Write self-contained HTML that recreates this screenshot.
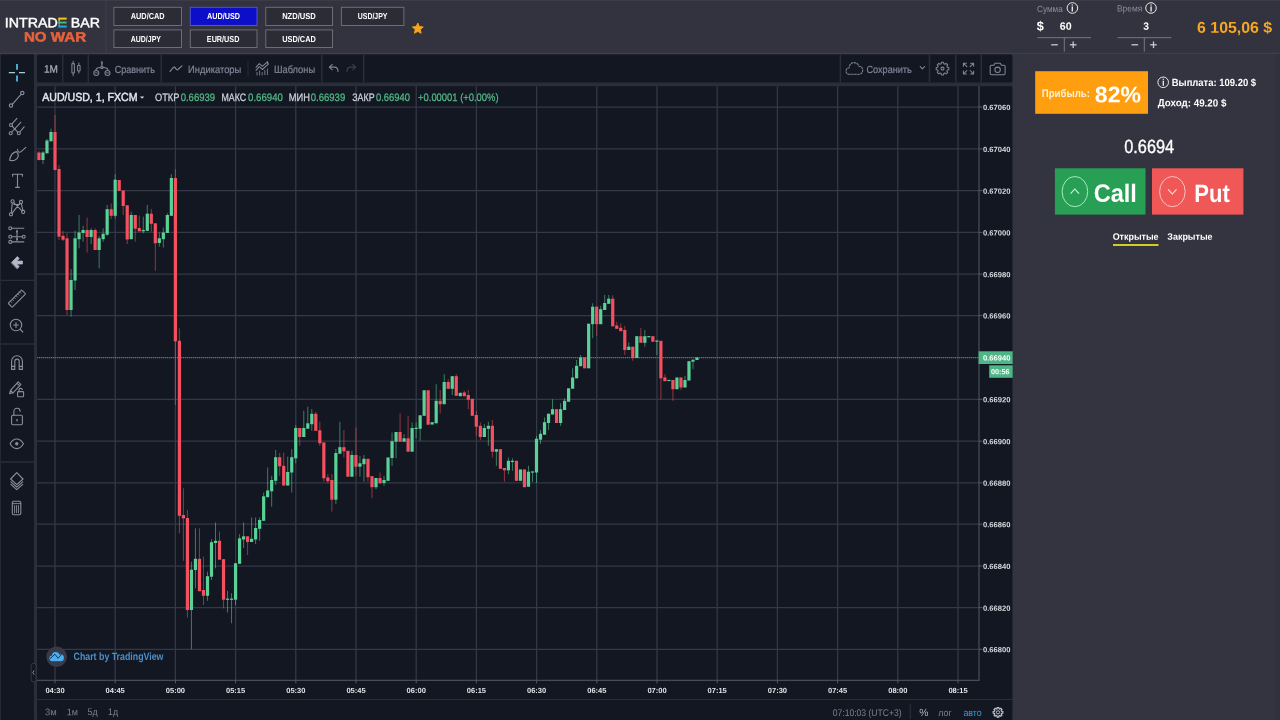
<!DOCTYPE html>
<html lang="ru"><head><meta charset="utf-8"><title>Intrade Bar</title>
<style>
html,body{margin:0;padding:0}
body{width:1280px;height:720px;overflow:hidden;position:relative;background:#2a2e39;font-family:"Liberation Sans",sans-serif}
svg.bg{position:absolute;left:0;top:0}
.t{position:absolute;white-space:nowrap;transform-origin:0 0;display:block}
.lgE{background:linear-gradient(to bottom,#f3c81a 0,#f3c81a 40%,#3fbf7a 40%,#3fbf7a 60%,#2aa4cc 60%,#2aa4cc 100%);-webkit-background-clip:text;background-clip:text;color:transparent}
</style></head><body>
<svg class="bg" width="1280" height="720" viewBox="0 0 1280 720">
<rect x="0.00" y="0.00" width="1280.00" height="720.00" fill="#2a2e39"/>
<rect x="0.00" y="0.00" width="1280.00" height="54.20" fill="#32333e"/>
<rect x="1012.40" y="54.20" width="267.60" height="665.80" fill="#33343f"/>
<line x1="0.00" y1="0.50" x2="1280.00" y2="0.50" stroke="#3b3c48" stroke-width="1"/>
<line x1="0.00" y1="53.50" x2="1280.00" y2="53.50" stroke="#3d3f4c" stroke-width="1.3"/>
<line x1="106.00" y1="0.00" x2="106.00" y2="53.00" stroke="#40414d" stroke-width="1"/>
<rect x="1275.50" y="54.00" width="4.50" height="666.00" fill="#30313b"/>
<rect x="0.80" y="54.40" width="33.20" height="665.60" fill="#131722"/>
<rect x="37.00" y="54.40" width="975.40" height="28.00" fill="#131722" rx="1.5"/>
<rect x="37.00" y="86.20" width="975.40" height="633.80" fill="#131722" rx="1.5"/>
<line x1="62.70" y1="54.40" x2="62.70" y2="82.40" stroke="#2a2e39" stroke-width="1.5"/>
<line x1="88.30" y1="54.40" x2="88.30" y2="82.40" stroke="#2a2e39" stroke-width="1.5"/>
<line x1="161.30" y1="54.40" x2="161.30" y2="82.40" stroke="#2a2e39" stroke-width="1.5"/>
<line x1="321.80" y1="54.40" x2="321.80" y2="82.40" stroke="#2a2e39" stroke-width="1.5"/>
<line x1="363.60" y1="54.40" x2="363.60" y2="82.40" stroke="#2a2e39" stroke-width="1.5"/>
<line x1="840.40" y1="54.40" x2="840.40" y2="82.40" stroke="#2a2e39" stroke-width="1.5"/>
<line x1="929.50" y1="54.40" x2="929.50" y2="82.40" stroke="#2a2e39" stroke-width="1.5"/>
<line x1="955.80" y1="54.40" x2="955.80" y2="82.40" stroke="#2a2e39" stroke-width="1.5"/>
<line x1="981.30" y1="54.40" x2="981.30" y2="82.40" stroke="#2a2e39" stroke-width="1.5"/>
<line x1="248.00" y1="61.00" x2="248.00" y2="77.00" stroke="#232733" stroke-width="1.2"/>
<line x1="0.80" y1="280.30" x2="34.00" y2="280.30" stroke="#2a2e39" stroke-width="1.3"/>
<line x1="0.80" y1="344.00" x2="34.00" y2="344.00" stroke="#2a2e39" stroke-width="1.3"/>
<line x1="0.80" y1="462.00" x2="34.00" y2="462.00" stroke="#2a2e39" stroke-width="1.3"/>
<line x1="37.00" y1="107.00" x2="979.00" y2="107.00" stroke="#353947" stroke-width="1.25"/>
<line x1="37.00" y1="148.90" x2="979.00" y2="148.90" stroke="#353947" stroke-width="1.25"/>
<line x1="37.00" y1="190.60" x2="979.00" y2="190.60" stroke="#353947" stroke-width="1.25"/>
<line x1="37.00" y1="232.40" x2="979.00" y2="232.40" stroke="#353947" stroke-width="1.25"/>
<line x1="37.00" y1="274.10" x2="979.00" y2="274.10" stroke="#353947" stroke-width="1.25"/>
<line x1="37.00" y1="315.50" x2="979.00" y2="315.50" stroke="#353947" stroke-width="1.25"/>
<line x1="37.00" y1="357.60" x2="979.00" y2="357.60" stroke="#353947" stroke-width="1.25"/>
<line x1="37.00" y1="399.30" x2="979.00" y2="399.30" stroke="#353947" stroke-width="1.25"/>
<line x1="37.00" y1="441.20" x2="979.00" y2="441.20" stroke="#353947" stroke-width="1.25"/>
<line x1="37.00" y1="482.80" x2="979.00" y2="482.80" stroke="#353947" stroke-width="1.25"/>
<line x1="37.00" y1="524.20" x2="979.00" y2="524.20" stroke="#353947" stroke-width="1.25"/>
<line x1="37.00" y1="566.00" x2="979.00" y2="566.00" stroke="#353947" stroke-width="1.25"/>
<line x1="37.00" y1="607.60" x2="979.00" y2="607.60" stroke="#353947" stroke-width="1.25"/>
<line x1="37.00" y1="649.30" x2="979.00" y2="649.30" stroke="#353947" stroke-width="1.25"/>
<line x1="55.00" y1="86.20" x2="55.00" y2="680.30" stroke="#353947" stroke-width="1.25"/>
<line x1="115.20" y1="86.20" x2="115.20" y2="680.30" stroke="#353947" stroke-width="1.25"/>
<line x1="175.40" y1="86.20" x2="175.40" y2="680.30" stroke="#353947" stroke-width="1.25"/>
<line x1="235.60" y1="86.20" x2="235.60" y2="680.30" stroke="#353947" stroke-width="1.25"/>
<line x1="295.80" y1="86.20" x2="295.80" y2="680.30" stroke="#353947" stroke-width="1.25"/>
<line x1="356.00" y1="86.20" x2="356.00" y2="680.30" stroke="#353947" stroke-width="1.25"/>
<line x1="416.20" y1="86.20" x2="416.20" y2="680.30" stroke="#353947" stroke-width="1.25"/>
<line x1="476.40" y1="86.20" x2="476.40" y2="680.30" stroke="#353947" stroke-width="1.25"/>
<line x1="536.60" y1="86.20" x2="536.60" y2="680.30" stroke="#353947" stroke-width="1.25"/>
<line x1="596.80" y1="86.20" x2="596.80" y2="680.30" stroke="#353947" stroke-width="1.25"/>
<line x1="657.00" y1="86.20" x2="657.00" y2="680.30" stroke="#353947" stroke-width="1.25"/>
<line x1="717.20" y1="86.20" x2="717.20" y2="680.30" stroke="#353947" stroke-width="1.25"/>
<line x1="777.40" y1="86.20" x2="777.40" y2="680.30" stroke="#353947" stroke-width="1.25"/>
<line x1="837.60" y1="86.20" x2="837.60" y2="680.30" stroke="#353947" stroke-width="1.25"/>
<line x1="897.80" y1="86.20" x2="897.80" y2="680.30" stroke="#353947" stroke-width="1.25"/>
<line x1="958.00" y1="86.20" x2="958.00" y2="680.30" stroke="#353947" stroke-width="1.25"/>
<line x1="979.00" y1="86.20" x2="979.00" y2="680.30" stroke="#555a68" stroke-width="1"/>
<line x1="37.00" y1="680.30" x2="979.50" y2="680.30" stroke="#555a68" stroke-width="1"/>
<line x1="37.00" y1="699.50" x2="1012.40" y2="699.50" stroke="#2a2e39" stroke-width="1.2"/>
<line x1="979.00" y1="107.00" x2="982.30" y2="107.00" stroke="#555a68" stroke-width="1"/>
<line x1="979.00" y1="148.90" x2="982.30" y2="148.90" stroke="#555a68" stroke-width="1"/>
<line x1="979.00" y1="190.60" x2="982.30" y2="190.60" stroke="#555a68" stroke-width="1"/>
<line x1="979.00" y1="232.40" x2="982.30" y2="232.40" stroke="#555a68" stroke-width="1"/>
<line x1="979.00" y1="274.10" x2="982.30" y2="274.10" stroke="#555a68" stroke-width="1"/>
<line x1="979.00" y1="315.50" x2="982.30" y2="315.50" stroke="#555a68" stroke-width="1"/>
<line x1="979.00" y1="357.60" x2="982.30" y2="357.60" stroke="#555a68" stroke-width="1"/>
<line x1="979.00" y1="399.30" x2="982.30" y2="399.30" stroke="#555a68" stroke-width="1"/>
<line x1="979.00" y1="441.20" x2="982.30" y2="441.20" stroke="#555a68" stroke-width="1"/>
<line x1="979.00" y1="482.80" x2="982.30" y2="482.80" stroke="#555a68" stroke-width="1"/>
<line x1="979.00" y1="524.20" x2="982.30" y2="524.20" stroke="#555a68" stroke-width="1"/>
<line x1="979.00" y1="566.00" x2="982.30" y2="566.00" stroke="#555a68" stroke-width="1"/>
<line x1="979.00" y1="607.60" x2="982.30" y2="607.60" stroke="#555a68" stroke-width="1"/>
<line x1="979.00" y1="649.30" x2="982.30" y2="649.30" stroke="#555a68" stroke-width="1"/>
<line x1="55.00" y1="680.30" x2="55.00" y2="683.30" stroke="#555a68" stroke-width="1"/>
<line x1="115.20" y1="680.30" x2="115.20" y2="683.30" stroke="#555a68" stroke-width="1"/>
<line x1="175.40" y1="680.30" x2="175.40" y2="683.30" stroke="#555a68" stroke-width="1"/>
<line x1="235.60" y1="680.30" x2="235.60" y2="683.30" stroke="#555a68" stroke-width="1"/>
<line x1="295.80" y1="680.30" x2="295.80" y2="683.30" stroke="#555a68" stroke-width="1"/>
<line x1="356.00" y1="680.30" x2="356.00" y2="683.30" stroke="#555a68" stroke-width="1"/>
<line x1="416.20" y1="680.30" x2="416.20" y2="683.30" stroke="#555a68" stroke-width="1"/>
<line x1="476.40" y1="680.30" x2="476.40" y2="683.30" stroke="#555a68" stroke-width="1"/>
<line x1="536.60" y1="680.30" x2="536.60" y2="683.30" stroke="#555a68" stroke-width="1"/>
<line x1="596.80" y1="680.30" x2="596.80" y2="683.30" stroke="#555a68" stroke-width="1"/>
<line x1="657.00" y1="680.30" x2="657.00" y2="683.30" stroke="#555a68" stroke-width="1"/>
<line x1="717.20" y1="680.30" x2="717.20" y2="683.30" stroke="#555a68" stroke-width="1"/>
<line x1="777.40" y1="680.30" x2="777.40" y2="683.30" stroke="#555a68" stroke-width="1"/>
<line x1="837.60" y1="680.30" x2="837.60" y2="683.30" stroke="#555a68" stroke-width="1"/>
<line x1="897.80" y1="680.30" x2="897.80" y2="683.30" stroke="#555a68" stroke-width="1"/>
<line x1="958.00" y1="680.30" x2="958.00" y2="683.30" stroke="#555a68" stroke-width="1"/>
<line x1="37.00" y1="357.70" x2="979.00" y2="357.70" stroke="#86aca6" stroke-width="1" stroke-dasharray="1 1" opacity="0.62"/>
<line x1="38.95" y1="151.00" x2="38.95" y2="160.50" stroke="#f5505f" stroke-width="1" opacity="0.55"/>
<rect x="37.35" y="152.50" width="3.20" height="7.50" fill="#f5505f"/>
<line x1="42.96" y1="151.00" x2="42.96" y2="164.00" stroke="#5ad197" stroke-width="1" opacity="0.55"/>
<rect x="41.36" y="152.50" width="3.20" height="7.50" fill="#5ad197"/>
<line x1="46.98" y1="139.00" x2="46.98" y2="153.30" stroke="#5ad197" stroke-width="1" opacity="0.55"/>
<rect x="45.38" y="140.50" width="3.20" height="12.80" fill="#5ad197"/>
<line x1="50.99" y1="128.70" x2="50.99" y2="141.30" stroke="#5ad197" stroke-width="1" opacity="0.55"/>
<rect x="49.39" y="132.00" width="3.20" height="9.30" fill="#5ad197"/>
<line x1="55.00" y1="115.00" x2="55.00" y2="170.00" stroke="#f5505f" stroke-width="1" opacity="0.55"/>
<rect x="53.40" y="132.00" width="3.20" height="38.00" fill="#f5505f"/>
<line x1="59.01" y1="165.00" x2="59.01" y2="240.00" stroke="#f5505f" stroke-width="1" opacity="0.55"/>
<rect x="57.41" y="169.00" width="3.20" height="67.70" fill="#f5505f"/>
<line x1="63.02" y1="230.80" x2="63.02" y2="241.00" stroke="#f5505f" stroke-width="1" opacity="0.55"/>
<rect x="61.42" y="235.80" width="3.20" height="3.90" fill="#f5505f"/>
<line x1="67.04" y1="233.30" x2="67.04" y2="315.00" stroke="#f5505f" stroke-width="1" opacity="0.55"/>
<rect x="65.44" y="238.30" width="3.20" height="71.70" fill="#f5505f"/>
<line x1="71.05" y1="269.00" x2="71.05" y2="316.70" stroke="#5ad197" stroke-width="1" opacity="0.55"/>
<rect x="69.45" y="280.00" width="3.20" height="30.00" fill="#5ad197"/>
<line x1="75.06" y1="230.80" x2="75.06" y2="290.00" stroke="#5ad197" stroke-width="1" opacity="0.55"/>
<rect x="73.46" y="238.30" width="3.20" height="42.20" fill="#5ad197"/>
<line x1="79.08" y1="215.00" x2="79.08" y2="248.30" stroke="#5ad197" stroke-width="1" opacity="0.55"/>
<rect x="77.48" y="232.50" width="3.20" height="6.70" fill="#5ad197"/>
<line x1="83.09" y1="225.80" x2="83.09" y2="241.70" stroke="#5ad197" stroke-width="1" opacity="0.55"/>
<rect x="81.49" y="230.00" width="3.20" height="3.00" fill="#5ad197"/>
<line x1="87.10" y1="217.50" x2="87.10" y2="252.50" stroke="#f5505f" stroke-width="1" opacity="0.55"/>
<rect x="85.50" y="230.00" width="3.20" height="7.00" fill="#f5505f"/>
<line x1="91.11" y1="228.30" x2="91.11" y2="244.00" stroke="#5ad197" stroke-width="1" opacity="0.55"/>
<rect x="89.51" y="230.00" width="3.20" height="7.00" fill="#5ad197"/>
<line x1="95.12" y1="228.30" x2="95.12" y2="250.00" stroke="#f5505f" stroke-width="1" opacity="0.55"/>
<rect x="93.53" y="230.00" width="3.20" height="20.00" fill="#f5505f"/>
<line x1="99.14" y1="235.80" x2="99.14" y2="268.30" stroke="#5ad197" stroke-width="1" opacity="0.55"/>
<rect x="97.54" y="238.30" width="3.20" height="11.70" fill="#5ad197"/>
<line x1="103.15" y1="228.30" x2="103.15" y2="241.70" stroke="#5ad197" stroke-width="1" opacity="0.55"/>
<rect x="101.55" y="233.80" width="3.20" height="5.40" fill="#5ad197"/>
<line x1="107.16" y1="205.00" x2="107.16" y2="235.80" stroke="#5ad197" stroke-width="1" opacity="0.55"/>
<rect x="105.56" y="209.20" width="3.20" height="25.50" fill="#5ad197"/>
<line x1="111.18" y1="203.30" x2="111.18" y2="219.00" stroke="#f5505f" stroke-width="1" opacity="0.55"/>
<rect x="109.58" y="209.20" width="3.20" height="6.60" fill="#f5505f"/>
<line x1="115.19" y1="174.20" x2="115.19" y2="218.30" stroke="#5ad197" stroke-width="1" opacity="0.55"/>
<rect x="113.59" y="179.70" width="3.20" height="36.10" fill="#5ad197"/>
<line x1="119.20" y1="180.00" x2="119.20" y2="190.80" stroke="#f5505f" stroke-width="1" opacity="0.55"/>
<rect x="117.60" y="180.00" width="3.20" height="10.80" fill="#f5505f"/>
<line x1="123.21" y1="190.50" x2="123.21" y2="215.00" stroke="#f5505f" stroke-width="1" opacity="0.55"/>
<rect x="121.61" y="190.50" width="3.20" height="15.50" fill="#f5505f"/>
<line x1="127.23" y1="205.30" x2="127.23" y2="244.00" stroke="#f5505f" stroke-width="1" opacity="0.55"/>
<rect x="125.63" y="205.30" width="3.20" height="34.20" fill="#f5505f"/>
<line x1="131.24" y1="211.70" x2="131.24" y2="239.20" stroke="#5ad197" stroke-width="1" opacity="0.55"/>
<rect x="129.64" y="215.00" width="3.20" height="24.20" fill="#5ad197"/>
<line x1="135.25" y1="215.00" x2="135.25" y2="241.70" stroke="#f5505f" stroke-width="1" opacity="0.55"/>
<rect x="133.65" y="215.00" width="3.20" height="13.70" fill="#f5505f"/>
<line x1="139.26" y1="215.80" x2="139.26" y2="231.30" stroke="#f5505f" stroke-width="1" opacity="0.55"/>
<rect x="137.66" y="228.00" width="3.20" height="3.30" fill="#f5505f"/>
<line x1="143.28" y1="216.70" x2="143.28" y2="233.30" stroke="#5ad197" stroke-width="1" opacity="0.55"/>
<rect x="141.68" y="230.00" width="3.20" height="1.30" fill="#5ad197"/>
<line x1="147.29" y1="205.00" x2="147.29" y2="230.80" stroke="#5ad197" stroke-width="1" opacity="0.55"/>
<rect x="145.69" y="213.70" width="3.20" height="17.10" fill="#5ad197"/>
<line x1="151.30" y1="209.00" x2="151.30" y2="231.70" stroke="#f5505f" stroke-width="1" opacity="0.55"/>
<rect x="149.70" y="213.70" width="3.20" height="10.10" fill="#f5505f"/>
<line x1="155.31" y1="223.30" x2="155.31" y2="270.80" stroke="#f5505f" stroke-width="1" opacity="0.55"/>
<rect x="153.71" y="223.30" width="3.20" height="20.00" fill="#f5505f"/>
<line x1="159.32" y1="232.50" x2="159.32" y2="246.70" stroke="#5ad197" stroke-width="1" opacity="0.55"/>
<rect x="157.72" y="238.30" width="3.20" height="4.70" fill="#5ad197"/>
<line x1="163.34" y1="227.50" x2="163.34" y2="247.50" stroke="#5ad197" stroke-width="1" opacity="0.55"/>
<rect x="161.74" y="232.50" width="3.20" height="6.70" fill="#5ad197"/>
<line x1="167.35" y1="213.30" x2="167.35" y2="233.00" stroke="#5ad197" stroke-width="1" opacity="0.55"/>
<rect x="165.75" y="215.00" width="3.20" height="18.00" fill="#5ad197"/>
<line x1="171.36" y1="174.20" x2="171.36" y2="215.80" stroke="#5ad197" stroke-width="1" opacity="0.55"/>
<rect x="169.76" y="178.00" width="3.20" height="37.80" fill="#5ad197"/>
<line x1="175.38" y1="169.20" x2="175.38" y2="405.00" stroke="#f5505f" stroke-width="1" opacity="0.55"/>
<rect x="173.78" y="178.00" width="3.20" height="163.30" fill="#f5505f"/>
<line x1="179.39" y1="328.30" x2="179.39" y2="533.30" stroke="#f5505f" stroke-width="1" opacity="0.55"/>
<rect x="177.79" y="340.80" width="3.20" height="175.00" fill="#f5505f"/>
<line x1="183.40" y1="488.30" x2="183.40" y2="560.80" stroke="#f5505f" stroke-width="1" opacity="0.55"/>
<rect x="181.80" y="515.00" width="3.20" height="3.30" fill="#f5505f"/>
<line x1="187.41" y1="510.00" x2="187.41" y2="617.50" stroke="#f5505f" stroke-width="1" opacity="0.55"/>
<rect x="185.81" y="518.00" width="3.20" height="92.00" fill="#f5505f"/>
<line x1="191.43" y1="561.70" x2="191.43" y2="649.20" stroke="#5ad197" stroke-width="1" opacity="0.55"/>
<rect x="189.83" y="569.70" width="3.20" height="40.30" fill="#5ad197"/>
<line x1="195.44" y1="528.30" x2="195.44" y2="588.30" stroke="#5ad197" stroke-width="1" opacity="0.55"/>
<rect x="193.84" y="558.80" width="3.20" height="11.20" fill="#5ad197"/>
<line x1="199.45" y1="528.30" x2="199.45" y2="591.20" stroke="#f5505f" stroke-width="1" opacity="0.55"/>
<rect x="197.85" y="558.80" width="3.20" height="32.40" fill="#f5505f"/>
<line x1="203.46" y1="556.70" x2="203.46" y2="605.00" stroke="#f5505f" stroke-width="1" opacity="0.55"/>
<rect x="201.86" y="590.00" width="3.20" height="5.80" fill="#f5505f"/>
<line x1="207.47" y1="571.70" x2="207.47" y2="600.80" stroke="#5ad197" stroke-width="1" opacity="0.55"/>
<rect x="205.88" y="576.20" width="3.20" height="19.60" fill="#5ad197"/>
<line x1="211.49" y1="539.20" x2="211.49" y2="580.00" stroke="#5ad197" stroke-width="1" opacity="0.55"/>
<rect x="209.89" y="542.20" width="3.20" height="34.50" fill="#5ad197"/>
<line x1="215.50" y1="522.50" x2="215.50" y2="568.30" stroke="#5ad197" stroke-width="1" opacity="0.55"/>
<rect x="213.90" y="540.80" width="3.20" height="2.20" fill="#5ad197"/>
<line x1="219.51" y1="531.70" x2="219.51" y2="559.70" stroke="#f5505f" stroke-width="1" opacity="0.55"/>
<rect x="217.91" y="540.80" width="3.20" height="18.90" fill="#f5505f"/>
<line x1="223.53" y1="559.20" x2="223.53" y2="608.30" stroke="#f5505f" stroke-width="1" opacity="0.55"/>
<rect x="221.93" y="559.20" width="3.20" height="40.50" fill="#f5505f"/>
<line x1="227.54" y1="590.80" x2="227.54" y2="612.50" stroke="#5ad197" stroke-width="1" opacity="0.55"/>
<rect x="225.94" y="598.60" width="3.20" height="1.20" fill="#5ad197"/>
<line x1="231.55" y1="593.30" x2="231.55" y2="623.30" stroke="#5ad197" stroke-width="1" opacity="0.55"/>
<rect x="229.95" y="598.60" width="3.20" height="1.20" fill="#5ad197"/>
<line x1="235.56" y1="563.30" x2="235.56" y2="605.00" stroke="#5ad197" stroke-width="1" opacity="0.55"/>
<rect x="233.96" y="563.30" width="3.20" height="36.40" fill="#5ad197"/>
<line x1="239.58" y1="534.20" x2="239.58" y2="563.80" stroke="#5ad197" stroke-width="1" opacity="0.55"/>
<rect x="237.98" y="538.30" width="3.20" height="25.50" fill="#5ad197"/>
<line x1="243.59" y1="522.50" x2="243.59" y2="548.00" stroke="#5ad197" stroke-width="1" opacity="0.55"/>
<rect x="241.99" y="536.30" width="3.20" height="3.20" fill="#5ad197"/>
<line x1="247.60" y1="536.30" x2="247.60" y2="555.00" stroke="#f5505f" stroke-width="1" opacity="0.55"/>
<rect x="246.00" y="536.30" width="3.20" height="5.70" fill="#f5505f"/>
<line x1="251.61" y1="517.50" x2="251.61" y2="542.00" stroke="#5ad197" stroke-width="1" opacity="0.55"/>
<rect x="250.01" y="538.80" width="3.20" height="3.20" fill="#5ad197"/>
<line x1="255.62" y1="517.50" x2="255.62" y2="544.00" stroke="#5ad197" stroke-width="1" opacity="0.55"/>
<rect x="254.03" y="528.00" width="3.20" height="11.50" fill="#5ad197"/>
<line x1="259.64" y1="517.50" x2="259.64" y2="540.80" stroke="#5ad197" stroke-width="1" opacity="0.55"/>
<rect x="258.04" y="520.00" width="3.20" height="8.80" fill="#5ad197"/>
<line x1="263.65" y1="492.50" x2="263.65" y2="520.80" stroke="#5ad197" stroke-width="1" opacity="0.55"/>
<rect x="262.05" y="496.30" width="3.20" height="24.50" fill="#5ad197"/>
<line x1="267.66" y1="467.50" x2="267.66" y2="497.20" stroke="#5ad197" stroke-width="1" opacity="0.55"/>
<rect x="266.06" y="490.50" width="3.20" height="6.70" fill="#5ad197"/>
<line x1="271.68" y1="475.80" x2="271.68" y2="506.70" stroke="#5ad197" stroke-width="1" opacity="0.55"/>
<rect x="270.07" y="480.00" width="3.20" height="11.30" fill="#5ad197"/>
<line x1="275.69" y1="450.00" x2="275.69" y2="485.00" stroke="#5ad197" stroke-width="1" opacity="0.55"/>
<rect x="274.09" y="457.20" width="3.20" height="23.60" fill="#5ad197"/>
<line x1="279.70" y1="453.00" x2="279.70" y2="475.80" stroke="#f5505f" stroke-width="1" opacity="0.55"/>
<rect x="278.10" y="457.20" width="3.20" height="9.10" fill="#f5505f"/>
<line x1="283.71" y1="452.50" x2="283.71" y2="485.50" stroke="#f5505f" stroke-width="1" opacity="0.55"/>
<rect x="282.11" y="465.80" width="3.20" height="19.70" fill="#f5505f"/>
<line x1="287.73" y1="456.70" x2="287.73" y2="485.50" stroke="#5ad197" stroke-width="1" opacity="0.55"/>
<rect x="286.12" y="472.00" width="3.20" height="13.50" fill="#5ad197"/>
<line x1="291.74" y1="449.20" x2="291.74" y2="492.50" stroke="#5ad197" stroke-width="1" opacity="0.55"/>
<rect x="290.14" y="457.20" width="3.20" height="15.30" fill="#5ad197"/>
<line x1="295.75" y1="425.00" x2="295.75" y2="463.30" stroke="#5ad197" stroke-width="1" opacity="0.55"/>
<rect x="294.15" y="428.00" width="3.20" height="30.30" fill="#5ad197"/>
<line x1="299.76" y1="428.00" x2="299.76" y2="445.80" stroke="#f5505f" stroke-width="1" opacity="0.55"/>
<rect x="298.16" y="428.00" width="3.20" height="9.00" fill="#f5505f"/>
<line x1="303.77" y1="410.80" x2="303.77" y2="437.00" stroke="#5ad197" stroke-width="1" opacity="0.55"/>
<rect x="302.17" y="428.00" width="3.20" height="9.00" fill="#5ad197"/>
<line x1="307.79" y1="406.70" x2="307.79" y2="428.70" stroke="#5ad197" stroke-width="1" opacity="0.55"/>
<rect x="306.19" y="423.30" width="3.20" height="5.40" fill="#5ad197"/>
<line x1="311.80" y1="409.20" x2="311.80" y2="430.80" stroke="#5ad197" stroke-width="1" opacity="0.55"/>
<rect x="310.20" y="413.80" width="3.20" height="10.40" fill="#5ad197"/>
<line x1="315.81" y1="411.70" x2="315.81" y2="430.80" stroke="#f5505f" stroke-width="1" opacity="0.55"/>
<rect x="314.21" y="413.80" width="3.20" height="17.00" fill="#f5505f"/>
<line x1="319.82" y1="421.70" x2="319.82" y2="445.80" stroke="#f5505f" stroke-width="1" opacity="0.55"/>
<rect x="318.22" y="430.30" width="3.20" height="13.00" fill="#f5505f"/>
<line x1="323.84" y1="442.50" x2="323.84" y2="481.70" stroke="#f5505f" stroke-width="1" opacity="0.55"/>
<rect x="322.24" y="442.50" width="3.20" height="35.80" fill="#f5505f"/>
<line x1="327.85" y1="474.20" x2="327.85" y2="483.30" stroke="#f5505f" stroke-width="1" opacity="0.55"/>
<rect x="326.25" y="477.50" width="3.20" height="3.70" fill="#f5505f"/>
<line x1="331.86" y1="474.00" x2="331.86" y2="511.70" stroke="#f5505f" stroke-width="1" opacity="0.55"/>
<rect x="330.26" y="480.00" width="3.20" height="19.70" fill="#f5505f"/>
<line x1="335.88" y1="449.00" x2="335.88" y2="504.00" stroke="#5ad197" stroke-width="1" opacity="0.55"/>
<rect x="334.27" y="453.00" width="3.20" height="46.70" fill="#5ad197"/>
<line x1="339.89" y1="421.70" x2="339.89" y2="453.70" stroke="#5ad197" stroke-width="1" opacity="0.55"/>
<rect x="338.29" y="447.20" width="3.20" height="6.50" fill="#5ad197"/>
<line x1="343.90" y1="430.00" x2="343.90" y2="457.50" stroke="#f5505f" stroke-width="1" opacity="0.55"/>
<rect x="342.30" y="447.20" width="3.20" height="4.10" fill="#f5505f"/>
<line x1="347.91" y1="450.80" x2="347.91" y2="476.70" stroke="#f5505f" stroke-width="1" opacity="0.55"/>
<rect x="346.31" y="450.80" width="3.20" height="25.90" fill="#f5505f"/>
<line x1="351.93" y1="450.80" x2="351.93" y2="476.70" stroke="#5ad197" stroke-width="1" opacity="0.55"/>
<rect x="350.32" y="455.00" width="3.20" height="21.70" fill="#5ad197"/>
<line x1="355.94" y1="427.50" x2="355.94" y2="475.80" stroke="#f5505f" stroke-width="1" opacity="0.55"/>
<rect x="354.34" y="455.00" width="3.20" height="11.70" fill="#f5505f"/>
<line x1="359.95" y1="455.80" x2="359.95" y2="476.70" stroke="#5ad197" stroke-width="1" opacity="0.55"/>
<rect x="358.35" y="463.30" width="3.20" height="3.40" fill="#5ad197"/>
<line x1="363.96" y1="455.00" x2="363.96" y2="481.70" stroke="#5ad197" stroke-width="1" opacity="0.55"/>
<rect x="362.36" y="458.80" width="3.20" height="5.40" fill="#5ad197"/>
<line x1="367.98" y1="458.80" x2="367.98" y2="481.70" stroke="#f5505f" stroke-width="1" opacity="0.55"/>
<rect x="366.38" y="458.80" width="3.20" height="18.40" fill="#f5505f"/>
<line x1="371.99" y1="476.20" x2="371.99" y2="498.30" stroke="#f5505f" stroke-width="1" opacity="0.55"/>
<rect x="370.39" y="476.20" width="3.20" height="11.00" fill="#f5505f"/>
<line x1="376.00" y1="478.00" x2="376.00" y2="489.20" stroke="#5ad197" stroke-width="1" opacity="0.55"/>
<rect x="374.40" y="478.00" width="3.20" height="9.20" fill="#5ad197"/>
<line x1="380.01" y1="472.50" x2="380.01" y2="483.30" stroke="#f5505f" stroke-width="1" opacity="0.55"/>
<rect x="378.41" y="478.00" width="3.20" height="5.30" fill="#f5505f"/>
<line x1="384.03" y1="475.80" x2="384.03" y2="485.80" stroke="#5ad197" stroke-width="1" opacity="0.55"/>
<rect x="382.43" y="480.00" width="3.20" height="3.00" fill="#5ad197"/>
<line x1="388.04" y1="457.50" x2="388.04" y2="480.80" stroke="#5ad197" stroke-width="1" opacity="0.55"/>
<rect x="386.44" y="457.50" width="3.20" height="23.30" fill="#5ad197"/>
<line x1="392.05" y1="432.50" x2="392.05" y2="465.80" stroke="#5ad197" stroke-width="1" opacity="0.55"/>
<rect x="390.45" y="441.20" width="3.20" height="16.80" fill="#5ad197"/>
<line x1="396.06" y1="432.00" x2="396.06" y2="458.30" stroke="#5ad197" stroke-width="1" opacity="0.55"/>
<rect x="394.46" y="432.00" width="3.20" height="9.70" fill="#5ad197"/>
<line x1="400.07" y1="413.30" x2="400.07" y2="441.70" stroke="#f5505f" stroke-width="1" opacity="0.55"/>
<rect x="398.47" y="432.00" width="3.20" height="9.70" fill="#f5505f"/>
<line x1="404.09" y1="434.20" x2="404.09" y2="441.70" stroke="#5ad197" stroke-width="1" opacity="0.55"/>
<rect x="402.49" y="438.30" width="3.20" height="3.40" fill="#5ad197"/>
<line x1="408.10" y1="415.80" x2="408.10" y2="451.70" stroke="#f5505f" stroke-width="1" opacity="0.55"/>
<rect x="406.50" y="438.30" width="3.20" height="13.40" fill="#f5505f"/>
<line x1="412.11" y1="422.50" x2="412.11" y2="451.70" stroke="#5ad197" stroke-width="1" opacity="0.55"/>
<rect x="410.51" y="428.00" width="3.20" height="23.70" fill="#5ad197"/>
<line x1="416.12" y1="422.50" x2="416.12" y2="438.30" stroke="#5ad197" stroke-width="1" opacity="0.55"/>
<rect x="414.52" y="427.80" width="3.20" height="1.20" fill="#5ad197"/>
<line x1="420.14" y1="415.30" x2="420.14" y2="440.80" stroke="#5ad197" stroke-width="1" opacity="0.55"/>
<rect x="418.54" y="415.30" width="3.20" height="13.50" fill="#5ad197"/>
<line x1="424.15" y1="390.30" x2="424.15" y2="415.80" stroke="#5ad197" stroke-width="1" opacity="0.55"/>
<rect x="422.55" y="390.30" width="3.20" height="25.50" fill="#5ad197"/>
<line x1="428.16" y1="390.30" x2="428.16" y2="424.70" stroke="#f5505f" stroke-width="1" opacity="0.55"/>
<rect x="426.56" y="390.30" width="3.20" height="34.40" fill="#f5505f"/>
<line x1="432.18" y1="422.20" x2="432.18" y2="424.50" stroke="#5ad197" stroke-width="1" opacity="0.55"/>
<rect x="430.57" y="422.20" width="3.20" height="2.30" fill="#5ad197"/>
<line x1="436.19" y1="384.20" x2="436.19" y2="423.30" stroke="#5ad197" stroke-width="1" opacity="0.55"/>
<rect x="434.59" y="400.80" width="3.20" height="22.50" fill="#5ad197"/>
<line x1="440.20" y1="390.00" x2="440.20" y2="413.30" stroke="#f5505f" stroke-width="1" opacity="0.55"/>
<rect x="438.60" y="400.80" width="3.20" height="3.40" fill="#f5505f"/>
<line x1="444.21" y1="374.20" x2="444.21" y2="404.20" stroke="#5ad197" stroke-width="1" opacity="0.55"/>
<rect x="442.61" y="382.00" width="3.20" height="22.20" fill="#5ad197"/>
<line x1="448.23" y1="379.20" x2="448.23" y2="388.80" stroke="#f5505f" stroke-width="1" opacity="0.55"/>
<rect x="446.62" y="382.00" width="3.20" height="6.80" fill="#f5505f"/>
<line x1="452.24" y1="376.20" x2="452.24" y2="395.00" stroke="#5ad197" stroke-width="1" opacity="0.55"/>
<rect x="450.64" y="376.20" width="3.20" height="12.60" fill="#5ad197"/>
<line x1="456.25" y1="374.20" x2="456.25" y2="395.80" stroke="#f5505f" stroke-width="1" opacity="0.55"/>
<rect x="454.65" y="376.20" width="3.20" height="19.60" fill="#f5505f"/>
<line x1="460.26" y1="392.80" x2="460.26" y2="396.20" stroke="#5ad197" stroke-width="1" opacity="0.55"/>
<rect x="458.66" y="392.80" width="3.20" height="3.40" fill="#5ad197"/>
<line x1="464.28" y1="390.80" x2="464.28" y2="396.20" stroke="#f5505f" stroke-width="1" opacity="0.55"/>
<rect x="462.68" y="392.50" width="3.20" height="3.70" fill="#f5505f"/>
<line x1="468.29" y1="390.00" x2="468.29" y2="409.20" stroke="#f5505f" stroke-width="1" opacity="0.55"/>
<rect x="466.69" y="395.00" width="3.20" height="4.70" fill="#f5505f"/>
<line x1="472.30" y1="398.80" x2="472.30" y2="415.80" stroke="#f5505f" stroke-width="1" opacity="0.55"/>
<rect x="470.70" y="398.80" width="3.20" height="17.00" fill="#f5505f"/>
<line x1="476.31" y1="411.00" x2="476.31" y2="435.80" stroke="#f5505f" stroke-width="1" opacity="0.55"/>
<rect x="474.71" y="415.00" width="3.20" height="11.70" fill="#f5505f"/>
<line x1="480.33" y1="422.50" x2="480.33" y2="440.00" stroke="#f5505f" stroke-width="1" opacity="0.55"/>
<rect x="478.73" y="425.80" width="3.20" height="11.20" fill="#f5505f"/>
<line x1="484.34" y1="424.20" x2="484.34" y2="437.00" stroke="#5ad197" stroke-width="1" opacity="0.55"/>
<rect x="482.74" y="428.00" width="3.20" height="9.00" fill="#5ad197"/>
<line x1="488.35" y1="421.70" x2="488.35" y2="445.80" stroke="#5ad197" stroke-width="1" opacity="0.55"/>
<rect x="486.75" y="425.80" width="3.20" height="3.00" fill="#5ad197"/>
<line x1="492.36" y1="420.00" x2="492.36" y2="457.50" stroke="#f5505f" stroke-width="1" opacity="0.55"/>
<rect x="490.76" y="425.80" width="3.20" height="25.90" fill="#f5505f"/>
<line x1="496.38" y1="449.20" x2="496.38" y2="465.80" stroke="#5ad197" stroke-width="1" opacity="0.55"/>
<rect x="494.77" y="449.20" width="3.20" height="2.50" fill="#5ad197"/>
<line x1="500.39" y1="449.20" x2="500.39" y2="468.80" stroke="#f5505f" stroke-width="1" opacity="0.55"/>
<rect x="498.79" y="449.20" width="3.20" height="19.60" fill="#f5505f"/>
<line x1="504.40" y1="468.00" x2="504.40" y2="481.70" stroke="#f5505f" stroke-width="1" opacity="0.55"/>
<rect x="502.80" y="468.00" width="3.20" height="2.30" fill="#f5505f"/>
<line x1="508.41" y1="457.50" x2="508.41" y2="474.20" stroke="#5ad197" stroke-width="1" opacity="0.55"/>
<rect x="506.81" y="460.80" width="3.20" height="9.50" fill="#5ad197"/>
<line x1="512.42" y1="458.30" x2="512.42" y2="470.80" stroke="#5ad197" stroke-width="1" opacity="0.55"/>
<rect x="510.82" y="460.80" width="3.20" height="1.20" fill="#5ad197"/>
<line x1="516.44" y1="460.80" x2="516.44" y2="480.80" stroke="#f5505f" stroke-width="1" opacity="0.55"/>
<rect x="514.84" y="460.80" width="3.20" height="20.00" fill="#f5505f"/>
<line x1="520.45" y1="469.50" x2="520.45" y2="480.80" stroke="#5ad197" stroke-width="1" opacity="0.55"/>
<rect x="518.85" y="469.50" width="3.20" height="11.30" fill="#5ad197"/>
<line x1="524.46" y1="469.50" x2="524.46" y2="487.20" stroke="#f5505f" stroke-width="1" opacity="0.55"/>
<rect x="522.86" y="469.50" width="3.20" height="17.70" fill="#f5505f"/>
<line x1="528.48" y1="465.80" x2="528.48" y2="486.70" stroke="#5ad197" stroke-width="1" opacity="0.55"/>
<rect x="526.88" y="471.70" width="3.20" height="15.00" fill="#5ad197"/>
<line x1="532.49" y1="471.50" x2="532.49" y2="481.70" stroke="#5ad197" stroke-width="1" opacity="0.55"/>
<rect x="530.89" y="471.40" width="3.20" height="1.20" fill="#5ad197"/>
<line x1="536.50" y1="435.80" x2="536.50" y2="483.00" stroke="#5ad197" stroke-width="1" opacity="0.55"/>
<rect x="534.90" y="438.70" width="3.20" height="33.80" fill="#5ad197"/>
<line x1="540.51" y1="430.00" x2="540.51" y2="444.00" stroke="#5ad197" stroke-width="1" opacity="0.55"/>
<rect x="538.91" y="433.80" width="3.20" height="5.90" fill="#5ad197"/>
<line x1="544.53" y1="417.50" x2="544.53" y2="434.70" stroke="#5ad197" stroke-width="1" opacity="0.55"/>
<rect x="542.93" y="422.20" width="3.20" height="12.50" fill="#5ad197"/>
<line x1="548.54" y1="413.70" x2="548.54" y2="430.00" stroke="#5ad197" stroke-width="1" opacity="0.55"/>
<rect x="546.94" y="413.70" width="3.20" height="9.30" fill="#5ad197"/>
<line x1="552.55" y1="399.20" x2="552.55" y2="414.50" stroke="#5ad197" stroke-width="1" opacity="0.55"/>
<rect x="550.95" y="409.20" width="3.20" height="5.30" fill="#5ad197"/>
<line x1="556.56" y1="409.20" x2="556.56" y2="423.00" stroke="#f5505f" stroke-width="1" opacity="0.55"/>
<rect x="554.96" y="409.20" width="3.20" height="13.80" fill="#f5505f"/>
<line x1="560.58" y1="403.30" x2="560.58" y2="425.80" stroke="#5ad197" stroke-width="1" opacity="0.55"/>
<rect x="558.98" y="409.20" width="3.20" height="13.80" fill="#5ad197"/>
<line x1="564.59" y1="398.30" x2="564.59" y2="410.00" stroke="#5ad197" stroke-width="1" opacity="0.55"/>
<rect x="562.99" y="400.80" width="3.20" height="9.20" fill="#5ad197"/>
<line x1="568.60" y1="388.30" x2="568.60" y2="401.70" stroke="#5ad197" stroke-width="1" opacity="0.55"/>
<rect x="567.00" y="388.30" width="3.20" height="13.40" fill="#5ad197"/>
<line x1="572.61" y1="368.30" x2="572.61" y2="388.70" stroke="#5ad197" stroke-width="1" opacity="0.55"/>
<rect x="571.01" y="377.50" width="3.20" height="11.20" fill="#5ad197"/>
<line x1="576.62" y1="360.00" x2="576.62" y2="378.30" stroke="#5ad197" stroke-width="1" opacity="0.55"/>
<rect x="575.02" y="365.80" width="3.20" height="12.50" fill="#5ad197"/>
<line x1="580.64" y1="355.00" x2="580.64" y2="366.20" stroke="#5ad197" stroke-width="1" opacity="0.55"/>
<rect x="579.04" y="357.50" width="3.20" height="8.70" fill="#5ad197"/>
<line x1="584.65" y1="357.50" x2="584.65" y2="368.30" stroke="#f5505f" stroke-width="1" opacity="0.55"/>
<rect x="583.05" y="357.50" width="3.20" height="10.80" fill="#f5505f"/>
<line x1="588.66" y1="323.70" x2="588.66" y2="368.30" stroke="#5ad197" stroke-width="1" opacity="0.55"/>
<rect x="587.06" y="323.70" width="3.20" height="44.60" fill="#5ad197"/>
<line x1="592.68" y1="303.30" x2="592.68" y2="338.30" stroke="#5ad197" stroke-width="1" opacity="0.55"/>
<rect x="591.08" y="306.70" width="3.20" height="17.50" fill="#5ad197"/>
<line x1="596.69" y1="306.70" x2="596.69" y2="335.80" stroke="#f5505f" stroke-width="1" opacity="0.55"/>
<rect x="595.09" y="306.70" width="3.20" height="17.50" fill="#f5505f"/>
<line x1="600.70" y1="305.80" x2="600.70" y2="324.20" stroke="#5ad197" stroke-width="1" opacity="0.55"/>
<rect x="599.10" y="309.20" width="3.20" height="15.00" fill="#5ad197"/>
<line x1="604.71" y1="295.00" x2="604.71" y2="310.00" stroke="#5ad197" stroke-width="1" opacity="0.55"/>
<rect x="603.11" y="303.00" width="3.20" height="7.00" fill="#5ad197"/>
<line x1="608.73" y1="295.00" x2="608.73" y2="303.80" stroke="#5ad197" stroke-width="1" opacity="0.55"/>
<rect x="607.12" y="298.70" width="3.20" height="5.10" fill="#5ad197"/>
<line x1="612.74" y1="295.30" x2="612.74" y2="326.30" stroke="#f5505f" stroke-width="1" opacity="0.55"/>
<rect x="611.14" y="298.70" width="3.20" height="27.60" fill="#f5505f"/>
<line x1="616.75" y1="321.70" x2="616.75" y2="328.80" stroke="#f5505f" stroke-width="1" opacity="0.55"/>
<rect x="615.15" y="325.50" width="3.20" height="3.30" fill="#f5505f"/>
<line x1="620.76" y1="323.30" x2="620.76" y2="331.20" stroke="#f5505f" stroke-width="1" opacity="0.55"/>
<rect x="619.16" y="327.80" width="3.20" height="3.40" fill="#f5505f"/>
<line x1="624.77" y1="325.80" x2="624.77" y2="355.00" stroke="#f5505f" stroke-width="1" opacity="0.55"/>
<rect x="623.17" y="330.00" width="3.20" height="20.00" fill="#f5505f"/>
<line x1="628.79" y1="342.50" x2="628.79" y2="350.00" stroke="#5ad197" stroke-width="1" opacity="0.55"/>
<rect x="627.19" y="346.70" width="3.20" height="3.30" fill="#5ad197"/>
<line x1="632.80" y1="346.70" x2="632.80" y2="360.80" stroke="#f5505f" stroke-width="1" opacity="0.55"/>
<rect x="631.20" y="346.70" width="3.20" height="11.30" fill="#f5505f"/>
<line x1="636.81" y1="336.20" x2="636.81" y2="358.00" stroke="#5ad197" stroke-width="1" opacity="0.55"/>
<rect x="635.21" y="336.20" width="3.20" height="21.80" fill="#5ad197"/>
<line x1="640.83" y1="328.00" x2="640.83" y2="342.80" stroke="#f5505f" stroke-width="1" opacity="0.55"/>
<rect x="639.23" y="336.20" width="3.20" height="6.60" fill="#f5505f"/>
<line x1="644.84" y1="330.00" x2="644.84" y2="346.70" stroke="#5ad197" stroke-width="1" opacity="0.55"/>
<rect x="643.24" y="336.20" width="3.20" height="6.60" fill="#5ad197"/>
<line x1="648.85" y1="336.20" x2="648.85" y2="337.20" stroke="#5ad197" stroke-width="1" opacity="0.55"/>
<rect x="647.25" y="336.10" width="3.20" height="1.20" fill="#5ad197"/>
<line x1="652.86" y1="336.20" x2="652.86" y2="341.70" stroke="#f5505f" stroke-width="1" opacity="0.55"/>
<rect x="651.26" y="336.20" width="3.20" height="5.50" fill="#f5505f"/>
<line x1="656.88" y1="340.50" x2="656.88" y2="355.00" stroke="#5ad197" stroke-width="1" opacity="0.55"/>
<rect x="655.27" y="340.50" width="3.20" height="1.20" fill="#5ad197"/>
<line x1="660.89" y1="340.80" x2="660.89" y2="399.20" stroke="#f5505f" stroke-width="1" opacity="0.55"/>
<rect x="659.29" y="340.80" width="3.20" height="37.50" fill="#f5505f"/>
<line x1="664.90" y1="374.20" x2="664.90" y2="381.20" stroke="#f5505f" stroke-width="1" opacity="0.55"/>
<rect x="663.30" y="377.50" width="3.20" height="3.70" fill="#f5505f"/>
<line x1="668.91" y1="380.00" x2="668.91" y2="381.00" stroke="#5ad197" stroke-width="1" opacity="0.55"/>
<rect x="667.31" y="379.90" width="3.20" height="1.20" fill="#5ad197"/>
<line x1="672.93" y1="380.00" x2="672.93" y2="400.80" stroke="#f5505f" stroke-width="1" opacity="0.55"/>
<rect x="671.33" y="380.00" width="3.20" height="9.20" fill="#f5505f"/>
<line x1="676.94" y1="377.50" x2="676.94" y2="389.20" stroke="#5ad197" stroke-width="1" opacity="0.55"/>
<rect x="675.34" y="377.50" width="3.20" height="11.70" fill="#5ad197"/>
<line x1="680.95" y1="377.50" x2="680.95" y2="390.00" stroke="#f5505f" stroke-width="1" opacity="0.55"/>
<rect x="679.35" y="377.50" width="3.20" height="10.00" fill="#f5505f"/>
<line x1="684.96" y1="375.80" x2="684.96" y2="387.50" stroke="#5ad197" stroke-width="1" opacity="0.55"/>
<rect x="683.36" y="380.00" width="3.20" height="7.50" fill="#5ad197"/>
<line x1="688.98" y1="361.20" x2="688.98" y2="380.50" stroke="#5ad197" stroke-width="1" opacity="0.55"/>
<rect x="687.38" y="361.20" width="3.20" height="19.30" fill="#5ad197"/>
<line x1="692.99" y1="359.70" x2="692.99" y2="369.20" stroke="#5ad197" stroke-width="1" opacity="0.55"/>
<rect x="691.39" y="359.70" width="3.20" height="2.00" fill="#5ad197"/>
<line x1="697.00" y1="357.50" x2="697.00" y2="360.00" stroke="#5ad197" stroke-width="1" opacity="0.55"/>
<rect x="695.40" y="357.50" width="3.20" height="2.50" fill="#5ad197"/>
<rect x="978.60" y="351.30" width="34.10" height="12.70" fill="#4db687"/>
<rect x="989.20" y="365.30" width="23.50" height="12.50" fill="#4db687"/>
<circle cx="56.60" cy="656.70" r="10.3" stroke="none" stroke-width="1" fill="#383a49"/>
<circle cx="52.30" cy="658.30" r="2.9" stroke="none" stroke-width="1" fill="#49b0f2"/>
<circle cx="55.70" cy="655.60" r="3.7" stroke="none" stroke-width="1" fill="#49b0f2"/>
<circle cx="60.60" cy="657.90" r="3.3" stroke="none" stroke-width="1" fill="#49b0f2"/>
<rect x="52.30" y="657.50" width="8.30" height="3.70" fill="#49b0f2"/>
<path d="M49.8 658.9 L54.9 654.2 L58 658.2 L61.3 654.9" stroke="#1d2b47" stroke-width="0.95" fill="none"/>
<rect x="31.20" y="663.40" width="4.80" height="18.40" fill="#131722" rx="2" stroke="#3b3f4d" stroke-width="0.8"/>
<path d="M34.2 670.6 L32.8 672.6 L34.2 674.6" stroke="#9a9fad" stroke-width="0.9" fill="none"/>
<g stroke="#8a8f9d" stroke-width="1.1" fill="none" stroke-linecap="round" stroke-linejoin="round">
<path d="M17 63.9V69.7M17 75.6V81.5" stroke="#4fb1d3" stroke-width="1.9" stroke-linecap="butt"/>
<path d="M8.8 72.65H15M19 72.65H25" stroke="#9fcfd6" stroke-width="1.4" stroke-linecap="butt"/>
<circle cx="11" cy="105.6" r="1.7"/><circle cx="22.3" cy="93.1" r="1.7"/><path d="M12.2 104.3L21.1 94.4"/>
<circle cx="11" cy="125" r="1.5"/><circle cx="10.7" cy="133.2" r="1.5"/><circle cx="18.8" cy="133.2" r="1.5"/>
<path d="M12 123.9L16.9 118.4M11.8 132L20.8 122.3M19.9 132L24.1 126.8M12.1 126.1L17.7 132.1"/>
<path d="M9.6 160.3C10.4 155.5 12.8 152.3 16.4 151.6C19.6 154.6 18.6 158.3 14.6 160.2C13 160.8 11.2 160.7 9.6 160.3Z"/>
<path d="M17.6 149.4C17.6 152.3 19.6 152.9 21.4 151.3L25.8 147.4"/>
<path d="M12.6 176.2V174.2H22.4V176.2M17.5 174.2V187.2M15.6 187.4H19.4"/>
<circle cx="12.6" cy="201.4" r="1.6"/><circle cx="21" cy="202" r="1.6"/><circle cx="11" cy="214.3" r="1.6"/><circle cx="23.2" cy="212" r="1.6"/>
<path d="M11.3 212.7L12.3 203M13.7 202.6L22 210.9M20 203.2L12.1 213.2M21.3 203.6L22.9 210.4M13.8 204.5H19.6"/>
<circle cx="10.3" cy="228.2" r="1.5"/><circle cx="10.3" cy="236.8" r="1.5"/><circle cx="10.3" cy="241.9" r="1.5"/><circle cx="23.7" cy="236.8" r="1.5"/>
<path d="M11.8 228.2H23.8M11.8 236.8H22.2M11.8 241.9H23.8M17 230V240.5"/>
<rect x="16.2" y="230.8" width="1.6" height="1.6" fill="#8a8f9d" stroke="none"/><rect x="16.2" y="238.3" width="1.6" height="1.6" fill="#8a8f9d" stroke="none"/>
<path d="M11.6 262.5L17.3 256.6L19.2 258.5L16.7 261.1H22.4V264H16.7L19.2 266.6L17.3 268.5Z" fill="#b2b9cb" stroke="#b2b9cb" stroke-width="0.8"/>
<g transform="rotate(-45 16.9 298.6)"><rect x="7.4" y="295.8" width="19" height="5.6" rx="0.6"/><path d="M10.5 295.8V297.8M13.1 295.8V297.8M15.7 295.8V297.8M18.3 295.8V297.8M20.9 295.8V297.8M23.5 295.8V297.8" stroke-width="0.8"/></g>
<circle cx="16" cy="325" r="5.7"/><path d="M20.2 329.3L22.8 332M13.6 325H18.4M16 322.6V327.4"/>
<path d="M11.6 369.4V361.2A5.4 5.4 0 0 1 22.4 361.2V369.4H19.2V361.3A2.2 2.2 0 0 0 14.8 361.3V369.4ZM11.6 366.4H14.8M19.2 366.4H22.4"/>
<path d="M9.6 393.6L10.5 390.3L18.2 381.9L20.9 384.3L13.1 392.8ZM16.9 383.3L19.6 385.7M10.5 390.3L13.1 392.8"/>
<rect x="17.6" y="391.6" width="6" height="5.2" rx="0.8"/><path d="M19 391.6V389.9A1.7 1.7 0 0 1 22.3 389.5"/>
<rect x="11.6" y="415.2" width="10.8" height="9.6" rx="1.2"/><path d="M13.9 415.2V411.6A3.1 3.1 0 0 1 20.1 411.2"/>
<rect x="16.4" y="419" width="1.3" height="2.4" fill="#8a8f9d" stroke="none"/>
<path d="M10.1 443.8C13.6 437.4 19.9 437.4 23.4 443.8C19.9 450.2 13.6 450.2 10.1 443.8Z"/>
<circle cx="16.75" cy="443.8" r="1.7" fill="#8a8f9d" stroke="none"/>
<path d="M16.75 472.6L23 479L16.75 484.6L10.6 479ZM10.9 481.9L16.75 487.2L22.7 481.9M10.9 484.4L16.75 489.6L22.7 484.4"/>
<rect x="12.3" y="501.2" width="8.5" height="13.6" rx="1.6"/><path d="M12.4 503.6H20.7M14.6 505.6V512.8M16.55 505.6V512.8M18.5 505.6V512.8" stroke-width="0.9"/>
</g>
<g stroke="#7f8696" stroke-width="1.05" fill="none" stroke-linecap="round" stroke-linejoin="round">
<rect x="71.9" y="63.6" width="2.5" height="9.4" rx="0.5"/><path d="M73.15 61.2V63.6M73.15 73V75.6"/>
<rect x="77.6" y="65.5" width="2.5" height="5.4" rx="0.5"/><path d="M78.85 63V65.5M78.85 70.9V73"/>
<path d="M101.9 61.2V66.2M100.8 67.5C97.4 67.5 95.8 68.6 95.9 70.4M103 67.5C106.4 67.5 108 68.6 107.9 70.4"/>
<circle cx="101.9" cy="67.5" r="1.25"/><circle cx="96.3" cy="72.9" r="2.5"/><circle cx="107.5" cy="72.9" r="2.5"/><path d="M95.2 72.9H97.4M106.4 72.9H108.6" stroke-width="0.9"/>
<path d="M101.2 62.4H102.6M101.2 63.8H102.6" stroke-width="0.7"/>
<path d="M170 71.3L173.2 67.6C174 66.8 174.7 67 175.3 67.9L176.2 69.2C176.8 70 177.5 70 178.2 69.3L182 65.9" stroke-width="1.2"/>
<path d="M256 67.3L259.3 63.6L262.4 66.4L267.6 61.6V63.4M256 70.4L259.3 66.7L262.4 69.5L268.6 63.8"/>
<path d="M257 72.5V75M259.6 71V75M262.2 72.5V75M264.8 70.5V75M267.4 69V75" stroke-width="0.9" stroke-dasharray="0.9 0.7"/>
<path d="M332.3 64.4L329.3 67.1L332.3 69.8M329.5 67.1H334.6C337 67.1 338 68.8 338 71.6"/>
<path d="M352.7 64.4L355.7 67.1L352.7 69.8M355.5 67.1H350.4C348 67.1 347 68.8 347 71.6" opacity="0.38"/>
<path d="M849.6 74.3C847 74.3 845.9 72.6 846 70.9C846.1 69.2 847.4 67.9 849.1 67.8C849.2 64.8 851.4 62.6 854.1 62.6C856.4 62.6 858.2 64 858.9 66.2C861.1 66.3 862.7 68 862.7 70.2C862.7 72.5 861.1 74.3 858.7 74.3Z" stroke-dasharray="1.7 1.3"/>
<path d="M920.2 66.6L922.4 68.9L924.6 66.6"/>
<path d="M948.80 67.50L948.80 69.70L947.32 69.92L946.84 71.08L947.74 72.28L946.18 73.84L944.98 72.94L943.82 73.42L943.60 74.90L941.40 74.90L941.18 73.42L940.02 72.94L938.82 73.84L937.26 72.28L938.16 71.08L937.68 69.92L936.20 69.70L936.20 67.50L937.68 67.28L938.16 66.12L937.26 64.92L938.82 63.36L940.02 64.26L941.18 63.78L941.40 62.30L943.60 62.30L943.82 63.78L944.98 64.26L946.18 63.36L947.74 64.92L946.84 66.12L947.32 67.28Z"/><circle cx="942.5" cy="68.6" r="1.5"/>
<path d="M963.4 66.2V63.2H966.4M963.6 63.4L966.9 66.7M973.6 66.2V63.2H970.6M973.4 63.4L970.1 66.7M963.4 71V74H966.4M963.6 73.8L966.9 70.5M973.6 71V74H970.6M973.4 73.8L970.1 70.5"/>
<path d="M991.4 65.2H993.9L995 63.3H1000.3L1001.4 65.2H1003.9C1004.6 65.2 1005.1 65.7 1005.1 66.4V73.6C1005.1 74.3 1004.6 74.8 1003.9 74.8H991.4C990.7 74.8 990.2 74.3 990.2 73.6V66.4C990.2 65.7 990.7 65.2 991.4 65.2Z"/><circle cx="997.6" cy="69.8" r="2.7"/>
</g>
<path d="M139.9 96.4H144.3L142.1 98.8Z" stroke="none" stroke-width="1" fill="#d1d4dc"/>
<path d="M1002.83 711.46L1002.83 713.14L1001.47 713.25L1001.13 714.08L1002.01 715.12L1000.82 716.31L999.78 715.43L998.95 715.77L998.84 717.13L997.16 717.13L997.05 715.77L996.22 715.43L995.18 716.31L993.99 715.12L994.87 714.08L994.53 713.25L993.17 713.14L993.17 711.46L994.53 711.35L994.87 710.52L993.99 709.48L995.18 708.29L996.22 709.17L997.05 708.83L997.16 707.47L998.84 707.47L998.95 708.83L999.78 709.17L1000.82 708.29L1002.01 709.48L1001.13 710.52L1001.47 711.35Z" stroke="#c5c9d2" stroke-width="1.1" fill="none"/><circle cx="998" cy="712.3" r="1.6" stroke="#c5c9d2" stroke-width="0.9" fill="none"/>
<line x1="910.30" y1="703.50" x2="910.30" y2="719.00" stroke="#2a2e39" stroke-width="1.2"/>
<rect x="113.90" y="7.30" width="67.60" height="18.20" fill="#2b2c36" stroke="#6c6d77" stroke-width="1"/>
<rect x="190.30" y="7.30" width="66.70" height="18.20" fill="#0c0ec8" stroke="#5157cc" stroke-width="1"/>
<rect x="265.80" y="7.30" width="66.70" height="18.20" fill="#2b2c36" stroke="#6c6d77" stroke-width="1"/>
<rect x="341.40" y="7.30" width="62.50" height="18.20" fill="#2b2c36" stroke="#6c6d77" stroke-width="1"/>
<rect x="113.90" y="29.90" width="67.60" height="17.60" fill="#2b2c36" stroke="#6c6d77" stroke-width="1"/>
<rect x="190.30" y="29.90" width="66.70" height="17.60" fill="#2b2c36" stroke="#6c6d77" stroke-width="1"/>
<rect x="265.80" y="29.90" width="66.70" height="17.60" fill="#2b2c36" stroke="#6c6d77" stroke-width="1"/>
<path d="M417.80 23.00L419.39 26.52L423.22 26.94L420.37 29.53L421.15 33.31L417.80 31.40L414.45 33.31L415.23 29.53L412.38 26.94L416.21 26.52Z" stroke="#f7a51c" stroke-width="0.9" fill="#f7a51c" stroke-linejoin="round"/>
<line x1="1037.30" y1="37.70" x2="1091.00" y2="37.70" stroke="#77787f" stroke-width="1"/>
<line x1="1064.30" y1="37.70" x2="1064.30" y2="51.60" stroke="#77787f" stroke-width="1"/>
<line x1="1117.50" y1="37.70" x2="1171.30" y2="37.70" stroke="#77787f" stroke-width="1"/>
<line x1="1144.30" y1="37.70" x2="1144.30" y2="51.60" stroke="#77787f" stroke-width="1"/>
<circle cx="1072.40" cy="8.00" r="5.3" stroke="#e8e8ea" stroke-width="1" fill="none"/>
<circle cx="1151.00" cy="8.00" r="5.3" stroke="#e8e8ea" stroke-width="1" fill="none"/>
<circle cx="1163.20" cy="82.30" r="5.3" stroke="#e8e8ea" stroke-width="1" fill="none"/>
<line x1="1051.20" y1="44.80" x2="1057.80" y2="44.80" stroke="#c9c9ce" stroke-width="1.3"/>
<line x1="1069.90" y1="44.80" x2="1076.50" y2="44.80" stroke="#c9c9ce" stroke-width="1.3"/>
<line x1="1073.20" y1="41.50" x2="1073.20" y2="48.10" stroke="#c9c9ce" stroke-width="1.3"/>
<line x1="1131.50" y1="44.80" x2="1138.10" y2="44.80" stroke="#c9c9ce" stroke-width="1.3"/>
<line x1="1150.20" y1="44.80" x2="1156.80" y2="44.80" stroke="#c9c9ce" stroke-width="1.3"/>
<line x1="1153.50" y1="41.50" x2="1153.50" y2="48.10" stroke="#c9c9ce" stroke-width="1.3"/>
<rect x="1035.20" y="71.20" width="112.80" height="42.60" fill="#ff9f0f"/>
<rect x="1054.90" y="168.30" width="90.60" height="46.30" fill="#27a055"/>
<rect x="1152.00" y="168.30" width="91.40" height="46.30" fill="#f05757"/>
<ellipse cx="1074.9" cy="191.6" rx="12.8" ry="15.1" stroke="#a9e6c0" stroke-width="1" fill="none"/>
<ellipse cx="1172.4" cy="191.6" rx="12.8" ry="15.1" stroke="#fbc3c3" stroke-width="1" fill="none"/>
<path d="M1070.6 193.6L1074.8 189L1079 193.6" stroke="rgba(255,255,255,0.85)" stroke-width="1.1" fill="none"/>
<path d="M1168.1 189.4L1172.3 194L1176.5 189.4" stroke="rgba(255,255,255,0.85)" stroke-width="1.1" fill="none"/>
<rect x="1113.00" y="244.10" width="45.50" height="1.80" fill="#e6de1e"/>
<rect x="58.40" y="17.60" width="8.20" height="2.00" fill="#f3c81a"/>
<rect x="58.40" y="21.60" width="8.20" height="1.90" fill="#3fbf7a"/>
<rect x="58.40" y="25.50" width="8.20" height="2.00" fill="#2aa4cc"/>
</svg>
<span class="t" id="t0" style="left:130px;top:12px;font-size:8.6px;line-height:8.6px;color:#ffffff;font-weight:700;transform:translate(0.71px,0.21px) rotate(0.03deg) scaleX(0.8564);">AUD/CAD</span>
<span class="t" id="t1" style="left:206px;top:12px;font-size:8.6px;line-height:8.6px;color:#ffffff;font-weight:700;transform:translate(0.97px,0.21px) rotate(0.03deg) scaleX(0.8448);">AUD/USD</span>
<span class="t" id="t2" style="left:282px;top:12px;font-size:8.6px;line-height:8.6px;color:#ffffff;font-weight:700;transform:translate(0.15px,0.21px) rotate(0.03deg) scaleX(0.8820);">NZD/USD</span>
<span class="t" id="t3" style="left:357px;top:12px;font-size:8.6px;line-height:8.6px;color:#ffffff;font-weight:700;transform:translate(0.74px,0.21px) rotate(0.03deg) scaleX(0.8078);">USD/JPY</span>
<span class="t" id="t4" style="left:130px;top:34px;font-size:8.6px;line-height:8.6px;color:#ffffff;font-weight:700;transform:translate(0.73px,0.51px) rotate(0.03deg) scaleX(0.8113);">AUD/JPY</span>
<span class="t" id="t5" style="left:206px;top:34px;font-size:8.6px;line-height:8.6px;color:#ffffff;font-weight:700;transform:translate(0.82px,0.51px) rotate(0.03deg) scaleX(0.8419);">EUR/USD</span>
<span class="t" id="t6" style="left:282px;top:34px;font-size:8.6px;line-height:8.6px;color:#ffffff;font-weight:700;transform:translate(0.21px,0.51px) rotate(0.03deg) scaleX(0.8577);">USD/CAD</span>
<span class="t" id="t7" style="left:4px;top:16px;font-size:13.4px;line-height:13.4px;color:#ffffff;transform:translate(0.85px,0.29px) rotate(0.03deg) scaleX(1.0629);-webkit-text-stroke:0.4px #fff;">INTRAD</span>
<span class="t" id="t8" style="left:57px;top:16px;font-size:13.4px;line-height:13.4px;color:#3fbf7a;transform:translate(0.20px,0.25px) rotate(0.03deg) scaleX(1.1170);"><span class="lgE">E</span></span>
<span class="t" id="t9" style="left:70px;top:16px;font-size:13.4px;line-height:13.4px;color:#ffffff;transform:translate(0.81px,0.29px) rotate(0.03deg) scaleX(1.0598);-webkit-text-stroke:0.4px #fff;">BAR</span>
<span class="t" id="t10" style="left:23px;top:30px;font-size:13.6px;line-height:13.6px;color:#e8623d;font-weight:700;transform:translate(0.94px,0.44px) rotate(0.03deg) scaleX(1.1133);-webkit-text-stroke:0.5px #e8623d;">NO WAR</span>
<span class="t" id="t11" style="left:1036px;top:4px;font-size:9px;line-height:9px;color:#8e8f98;transform:translate(0.98px,0.57px) rotate(0.03deg) scaleX(0.9120);">Сумма</span>
<span class="t" id="t12" style="left:1116px;top:4px;font-size:9px;line-height:9px;color:#8e8f98;transform:translate(0.90px,0.57px) rotate(0.03deg) scaleX(0.9395);">Время</span>
<span class="t" id="t13" style="left:1071px;top:3px;font-size:9.6px;line-height:9.6px;color:#e8e8ea;font-weight:700;transform:translate(0.10px,0.38px) rotate(0.03deg) scaleX(1.0000);">i</span>
<span class="t" id="t14" style="left:1149px;top:3px;font-size:9.6px;line-height:9.6px;color:#e8e8ea;font-weight:700;transform:translate(0.70px,0.38px) rotate(0.03deg) scaleX(1.0000);">i</span>
<span class="t" id="t15" style="left:1036px;top:19px;font-size:13px;line-height:13px;color:#ffffff;font-weight:700;transform:translate(0.78px,0.50px) rotate(0.03deg) scaleX(0.9755);">$</span>
<span class="t" id="t16" style="left:1059px;top:20px;font-size:10.6px;line-height:10.6px;color:#ffffff;font-weight:700;transform:translate(0.84px,0.66px) rotate(0.03deg) scaleX(1.0078);">60</span>
<span class="t" id="t17" style="left:1143px;top:20px;font-size:10.6px;line-height:10.6px;color:#ffffff;font-weight:700;transform:translate(0.18px,0.66px) rotate(0.03deg) scaleX(0.9681);">3</span>
<span class="t" id="t18" style="left:1197px;top:19px;font-size:15.6px;line-height:15.6px;color:#f6a623;font-weight:700;transform:translate(0.13px,0.79px) rotate(0.03deg) scaleX(1.0179);">6 105,06 $</span>
<span class="t" id="t19" style="left:1041px;top:88px;font-size:11px;line-height:11px;color:#fff1d6;font-weight:700;transform:translate(0.72px,0.18px) rotate(0.03deg) scaleX(0.8774);">Прибыль:</span>
<span class="t" id="t20" style="left:1094px;top:84px;font-size:22.6px;line-height:22.6px;color:#ffffff;font-weight:700;transform:translate(0.86px,0.28px) rotate(0.03deg) scaleX(1.0206);">82%</span>
<span class="t" id="t21" style="left:1161px;top:77px;font-size:9.6px;line-height:9.6px;color:#e8e8ea;font-weight:700;transform:translate(0.90px,0.68px) rotate(0.03deg) scaleX(1.0000);">i</span>
<span class="t" id="t22" style="left:1171px;top:77px;font-size:10.4px;line-height:10.4px;color:#ffffff;font-weight:700;transform:translate(0.74px,0.96px) rotate(0.03deg) scaleX(0.9100);">Выплата: 109.20 $</span>
<span class="t" id="t23" style="left:1157px;top:98px;font-size:10.4px;line-height:10.4px;color:#ffffff;font-weight:700;transform:translate(0.64px,0.36px) rotate(0.03deg) scaleX(0.9415);">Доход: 49.20 $</span>
<span class="t" id="t24" style="left:1124px;top:137px;font-size:19px;line-height:19px;color:#ffffff;transform:translate(0.23px,0.10px) rotate(0.03deg) scaleX(0.8584);-webkit-text-stroke:0.35px #fff;">0.6694</span>
<span class="t" id="t25" style="left:1093px;top:180px;font-size:25.2px;line-height:25.2px;color:#ffffff;font-weight:700;transform:translate(0.70px,0.86px) rotate(0.03deg) scaleX(0.9358);">Call</span>
<span class="t" id="t26" style="left:1194px;top:181px;font-size:25.2px;line-height:25.2px;color:#ffffff;font-weight:700;transform:translate(0.29px,0.06px) rotate(0.03deg) scaleX(0.8742);">Put</span>
<span class="t" id="t27" style="left:1112px;top:231px;font-size:9.4px;line-height:9.4px;color:#ffffff;font-weight:700;transform:translate(0.64px,0.68px) rotate(0.03deg) scaleX(0.9525);">Открытые</span>
<span class="t" id="t28" style="left:1167px;top:231px;font-size:9.4px;line-height:9.4px;color:#ffffff;font-weight:700;transform:translate(0.28px,0.68px) rotate(0.03deg) scaleX(0.9571);">Закрытые</span>
<span class="t" id="t29" style="left:43px;top:63px;font-size:10.5px;line-height:10.5px;color:#a5a9b5;transform:translate(0.94px,0.50px) rotate(0.03deg) scaleX(0.9584);-webkit-text-stroke:0.3px #a5a9b5;">1М</span>
<span class="t" id="t30" style="left:114px;top:64px;font-size:10.4px;line-height:10.4px;color:#7f8696;transform:translate(0.67px,0.59px) rotate(0.03deg) scaleX(0.8708);-webkit-text-stroke:0.2px #7f8696;">Сравнить</span>
<span class="t" id="t31" style="left:188px;top:64px;font-size:10.4px;line-height:10.4px;color:#7f8696;transform:translate(0.06px,0.59px) rotate(0.03deg) scaleX(0.9017);-webkit-text-stroke:0.2px #7f8696;">Индикаторы</span>
<span class="t" id="t32" style="left:273px;top:64px;font-size:10.4px;line-height:10.4px;color:#7f8696;transform:translate(0.98px,0.59px) rotate(0.03deg) scaleX(0.8949);-webkit-text-stroke:0.2px #7f8696;">Шаблоны</span>
<span class="t" id="t33" style="left:866px;top:64px;font-size:10.4px;line-height:10.4px;color:#7f8696;transform:translate(0.48px,0.59px) rotate(0.03deg) scaleX(0.8773);-webkit-text-stroke:0.2px #7f8696;">Сохранить</span>
<span class="t" id="t34" style="left:42px;top:91px;font-size:11.7px;line-height:11.7px;color:#e4e6ec;transform:translate(0.19px,0.20px) rotate(0.03deg) scaleX(0.9066);-webkit-text-stroke:0.45px #e4e6ec;">AUD/USD, 1, FXCM</span>
<span class="t" id="t35" style="left:154px;top:92px;font-size:10.8px;line-height:10.8px;color:#d1d4dc;transform:translate(0.93px,0.00px) rotate(0.03deg) scaleX(0.8583);-webkit-text-stroke:0.25px #d1d4dc;">ОТКР</span>
<span class="t" id="t36" style="left:180px;top:92px;font-size:10.8px;line-height:10.8px;color:#53b987;transform:translate(0.66px,0.00px) rotate(0.03deg) scaleX(0.8832);-webkit-text-stroke:0.25px #53b987;">0.66939</span>
<span class="t" id="t37" style="left:221px;top:92px;font-size:10.8px;line-height:10.8px;color:#d1d4dc;transform:translate(0.53px,0.00px) rotate(0.03deg) scaleX(0.8167);-webkit-text-stroke:0.25px #d1d4dc;">МАКС</span>
<span class="t" id="t38" style="left:248px;top:92px;font-size:10.8px;line-height:10.8px;color:#53b987;transform:translate(0.06px,0.00px) rotate(0.03deg) scaleX(0.8921);-webkit-text-stroke:0.25px #53b987;">0.66940</span>
<span class="t" id="t39" style="left:288px;top:92px;font-size:10.8px;line-height:10.8px;color:#d1d4dc;transform:translate(0.79px,0.00px) rotate(0.03deg) scaleX(0.8615);-webkit-text-stroke:0.25px #d1d4dc;">МИН</span>
<span class="t" id="t40" style="left:310px;top:92px;font-size:10.8px;line-height:10.8px;color:#53b987;transform:translate(0.76px,0.00px) rotate(0.03deg) scaleX(0.8832);-webkit-text-stroke:0.25px #53b987;">0.66939</span>
<span class="t" id="t41" style="left:352px;top:92px;font-size:10.8px;line-height:10.8px;color:#d1d4dc;transform:translate(0.25px,0.00px) rotate(0.03deg) scaleX(0.8210);-webkit-text-stroke:0.25px #d1d4dc;">ЗАКР</span>
<span class="t" id="t42" style="left:375px;top:92px;font-size:10.8px;line-height:10.8px;color:#53b987;transform:translate(0.96px,0.00px) rotate(0.03deg) scaleX(0.8687);-webkit-text-stroke:0.25px #53b987;">0.66940</span>
<span class="t" id="t43" style="left:418px;top:91px;font-size:10.8px;line-height:10.8px;color:#53b987;transform:translate(0.05px,1.00px) rotate(0.03deg) scaleX(0.8710);-webkit-text-stroke:0.25px #53b987;">+0.00001 (+0.00%)</span>
<span class="t" id="t44" style="left:982px;top:104px;font-size:7.5px;line-height:7.5px;color:#d6d8de;font-weight:700;transform:translate(0.95px,0.06px) rotate(0.03deg) scaleX(1.0131);">0.67060</span>
<span class="t" id="t45" style="left:982px;top:145px;font-size:7.5px;line-height:7.5px;color:#d6d8de;font-weight:700;transform:translate(0.92px,0.96px) rotate(0.03deg) scaleX(1.0154);">0.67040</span>
<span class="t" id="t46" style="left:982px;top:187px;font-size:7.5px;line-height:7.5px;color:#d6d8de;font-weight:700;transform:translate(0.94px,0.66px) rotate(0.03deg) scaleX(1.0141);">0.67020</span>
<span class="t" id="t47" style="left:982px;top:229px;font-size:7.5px;line-height:7.5px;color:#d6d8de;font-weight:700;transform:translate(0.96px,0.46px) rotate(0.03deg) scaleX(1.0126);">0.67000</span>
<span class="t" id="t48" style="left:982px;top:271px;font-size:7.5px;line-height:7.5px;color:#d6d8de;font-weight:700;transform:translate(0.93px,0.16px) rotate(0.03deg) scaleX(1.0149);">0.66980</span>
<span class="t" id="t49" style="left:982px;top:312px;font-size:7.5px;line-height:7.5px;color:#d6d8de;font-weight:700;transform:translate(0.93px,0.56px) rotate(0.03deg) scaleX(1.0149);">0.66960</span>
<span class="t" id="t50" style="left:982px;top:396px;font-size:7.5px;line-height:7.5px;color:#d6d8de;font-weight:700;transform:translate(0.93px,0.36px) rotate(0.03deg) scaleX(1.0149);">0.66920</span>
<span class="t" id="t51" style="left:982px;top:438px;font-size:7.5px;line-height:7.5px;color:#d6d8de;font-weight:700;transform:translate(0.93px,0.26px) rotate(0.03deg) scaleX(1.0149);">0.66900</span>
<span class="t" id="t52" style="left:982px;top:479px;font-size:7.5px;line-height:7.5px;color:#d6d8de;font-weight:700;transform:translate(0.93px,0.86px) rotate(0.03deg) scaleX(1.0149);">0.66880</span>
<span class="t" id="t53" style="left:982px;top:521px;font-size:7.5px;line-height:7.5px;color:#d6d8de;font-weight:700;transform:translate(0.93px,0.26px) rotate(0.03deg) scaleX(1.0149);">0.66860</span>
<span class="t" id="t54" style="left:982px;top:563px;font-size:7.5px;line-height:7.5px;color:#d6d8de;font-weight:700;transform:translate(0.92px,0.06px) rotate(0.03deg) scaleX(1.0154);">0.66840</span>
<span class="t" id="t55" style="left:982px;top:604px;font-size:7.5px;line-height:7.5px;color:#d6d8de;font-weight:700;transform:translate(0.93px,0.66px) rotate(0.03deg) scaleX(1.0149);">0.66820</span>
<span class="t" id="t56" style="left:982px;top:646px;font-size:7.5px;line-height:7.5px;color:#d6d8de;font-weight:700;transform:translate(0.93px,0.36px) rotate(0.03deg) scaleX(1.0149);">0.66800</span>
<span class="t" id="t57" style="left:982px;top:354px;font-size:7.5px;line-height:7.5px;color:#ffffff;font-weight:700;transform:translate(0.92px,0.46px) rotate(0.03deg) scaleX(1.0154);">0.66940</span>
<span class="t" id="t58" style="left:990px;top:368px;font-size:7.5px;line-height:7.5px;color:#ffffff;font-weight:700;transform:translate(0.93px,0.36px) rotate(0.03deg) scaleX(0.9684);">00:56</span>
<span class="t" id="t59" style="left:45px;top:687px;font-size:7.4px;line-height:7.4px;color:#e2e4e9;font-weight:700;transform:translate(0.42px,0.11px) rotate(0.03deg) scaleX(1.0158);">04:30</span>
<span class="t" id="t60" style="left:105px;top:687px;font-size:7.4px;line-height:7.4px;color:#e2e4e9;font-weight:700;transform:translate(0.62px,0.11px) rotate(0.03deg) scaleX(1.0125);">04:45</span>
<span class="t" id="t61" style="left:165px;top:687px;font-size:7.4px;line-height:7.4px;color:#e2e4e9;font-weight:700;transform:translate(0.82px,0.11px) rotate(0.03deg) scaleX(1.0158);">05:00</span>
<span class="t" id="t62" style="left:226px;top:687px;font-size:7.4px;line-height:7.4px;color:#e2e4e9;font-weight:700;transform:translate(0.02px,0.11px) rotate(0.03deg) scaleX(1.0125);">05:15</span>
<span class="t" id="t63" style="left:286px;top:687px;font-size:7.4px;line-height:7.4px;color:#e2e4e9;font-weight:700;transform:translate(0.22px,0.11px) rotate(0.03deg) scaleX(1.0158);">05:30</span>
<span class="t" id="t64" style="left:346px;top:687px;font-size:7.4px;line-height:7.4px;color:#e2e4e9;font-weight:700;transform:translate(0.42px,0.11px) rotate(0.03deg) scaleX(1.0125);">05:45</span>
<span class="t" id="t65" style="left:406px;top:687px;font-size:7.4px;line-height:7.4px;color:#e2e4e9;font-weight:700;transform:translate(0.62px,0.11px) rotate(0.03deg) scaleX(1.0158);">06:00</span>
<span class="t" id="t66" style="left:466px;top:687px;font-size:7.4px;line-height:7.4px;color:#e2e4e9;font-weight:700;transform:translate(0.82px,0.11px) rotate(0.03deg) scaleX(1.0125);">06:15</span>
<span class="t" id="t67" style="left:527px;top:687px;font-size:7.4px;line-height:7.4px;color:#e2e4e9;font-weight:700;transform:translate(0.02px,0.11px) rotate(0.03deg) scaleX(1.0158);">06:30</span>
<span class="t" id="t68" style="left:587px;top:687px;font-size:7.4px;line-height:7.4px;color:#e2e4e9;font-weight:700;transform:translate(0.22px,0.11px) rotate(0.03deg) scaleX(1.0125);">06:45</span>
<span class="t" id="t69" style="left:647px;top:687px;font-size:7.4px;line-height:7.4px;color:#e2e4e9;font-weight:700;transform:translate(0.42px,0.11px) rotate(0.03deg) scaleX(1.0158);">07:00</span>
<span class="t" id="t70" style="left:707px;top:687px;font-size:7.4px;line-height:7.4px;color:#e2e4e9;font-weight:700;transform:translate(0.62px,0.11px) rotate(0.03deg) scaleX(1.0125);">07:15</span>
<span class="t" id="t71" style="left:767px;top:687px;font-size:7.4px;line-height:7.4px;color:#e2e4e9;font-weight:700;transform:translate(0.82px,0.11px) rotate(0.03deg) scaleX(1.0158);">07:30</span>
<span class="t" id="t72" style="left:828px;top:687px;font-size:7.4px;line-height:7.4px;color:#e2e4e9;font-weight:700;transform:translate(0.02px,0.11px) rotate(0.03deg) scaleX(1.0125);">07:45</span>
<span class="t" id="t73" style="left:888px;top:687px;font-size:7.4px;line-height:7.4px;color:#e2e4e9;font-weight:700;transform:translate(0.22px,0.11px) rotate(0.03deg) scaleX(1.0158);">08:00</span>
<span class="t" id="t74" style="left:948px;top:687px;font-size:7.4px;line-height:7.4px;color:#e2e4e9;font-weight:700;transform:translate(0.42px,0.11px) rotate(0.03deg) scaleX(1.0125);">08:15</span>
<span class="t" id="t75" style="left:44px;top:707px;font-size:9.6px;line-height:9.6px;color:#7b8191;transform:translate(0.98px,0.31px) rotate(0.03deg) scaleX(0.9794);">3м</span>
<span class="t" id="t76" style="left:66px;top:707px;font-size:9.6px;line-height:9.6px;color:#7b8191;transform:translate(0.71px,0.31px) rotate(0.03deg) scaleX(0.9409);">1м</span>
<span class="t" id="t77" style="left:87px;top:707px;font-size:9.6px;line-height:9.6px;color:#7b8191;transform:translate(0.62px,0.31px) rotate(0.03deg) scaleX(0.9192);">5д</span>
<span class="t" id="t78" style="left:108px;top:707px;font-size:9.6px;line-height:9.6px;color:#7b8191;transform:translate(0.03px,0.31px) rotate(0.03deg) scaleX(0.9181);">1д</span>
<span class="t" id="t79" style="left:832px;top:707px;font-size:9.6px;line-height:9.6px;color:#7b8191;transform:translate(0.74px,0.51px) rotate(0.03deg) scaleX(0.8932);">07:10:03 (UTC+3)</span>
<span class="t" id="t80" style="left:919px;top:706px;font-size:10.5px;line-height:10.5px;color:#aeb2bd;transform:translate(0.18px,0.90px) rotate(0.03deg) scaleX(0.9800);">%</span>
<span class="t" id="t81" style="left:938px;top:708px;font-size:9.6px;line-height:9.6px;color:#7b8191;transform:translate(0.13px,0.31px) rotate(0.03deg) scaleX(0.9291);">лог</span>
<span class="t" id="t82" style="left:963px;top:708px;font-size:9.6px;line-height:9.6px;color:#2f9fe0;transform:translate(0.46px,0.31px) rotate(0.03deg) scaleX(0.9203);">авто</span>
<span class="t" id="t83" style="left:73px;top:651px;font-size:10.6px;line-height:10.6px;color:#4b8fcb;font-weight:700;transform:translate(0.54px,0.06px) rotate(0.03deg) scaleX(0.8318);">Chart by TradingView</span>
</body></html>
